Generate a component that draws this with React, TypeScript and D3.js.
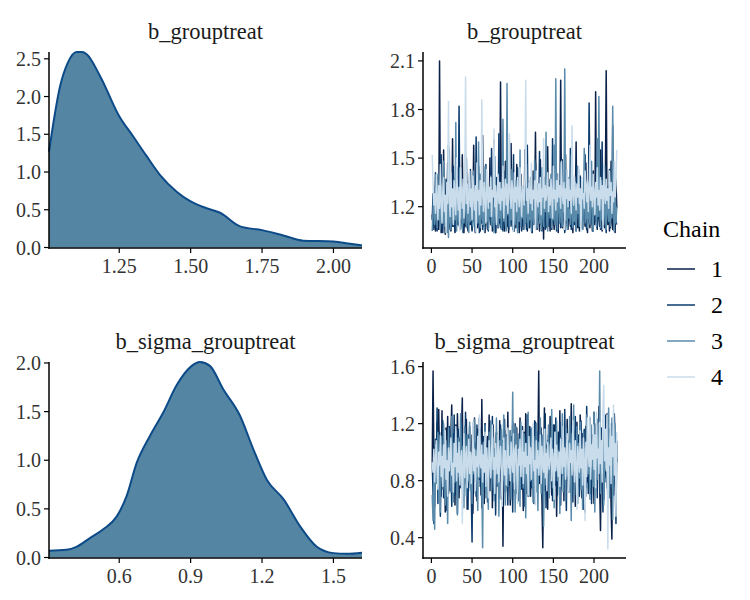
import React from 'react';
import * as d3 from 'd3';

// ---------- data ----------
const chainLabels = ['1', '2', '3', '4'];
const chainColors = ['#0a2149', '#0b3a6c', '#5a8bab', '#c9dceb'];

const densTopX = [1.004, 1.043, 1.07, 1.101, 1.12, 1.136, 1.183, 1.25, 1.299, 1.346, 1.393, 1.451, 1.5, 1.556, 1.603, 1.673, 1.75, 1.824, 1.894, 2.0, 2.058, 2.1];
const densTopY = [1.27, 2.14, 2.45, 2.59, 2.59, 2.56, 2.27, 1.74, 1.47, 1.21, 0.96, 0.74, 0.61, 0.52, 0.46, 0.28, 0.23, 0.16, 0.09, 0.08, 0.05, 0.027];

const densBotX = [0.305, 0.378, 0.42, 0.477, 0.533, 0.589, 0.631, 0.673, 0.729, 0.785, 0.841, 0.9, 0.939, 0.981, 1.037, 1.107, 1.164, 1.22, 1.29, 1.36, 1.43, 1.5, 1.556, 1.62];
const densBotY = [0.07, 0.08, 0.11, 0.2, 0.29, 0.42, 0.63, 0.97, 1.25, 1.49, 1.77, 1.96, 2.01, 1.97, 1.73, 1.46, 1.11, 0.8, 0.6, 0.32, 0.11, 0.045, 0.038, 0.05];

const topChain1 = [
  1.15, 1.08, 1.29, 1.12, 1.05, 1.22, 1.10, 1.38, 1.06, 2.10, 1.18, 1.04,
  1.31, 1.09, 1.55, 1.14, 1.03, 1.26, 1.12, 1.47, 1.07, 1.19, 1.35, 1.05,
  1.11, 1.62, 1.08, 1.21, 1.04, 1.33, 1.15, 1.09, 1.44, 1.17, 1.06, 1.28,
  1.10, 1.52, 1.13, 1.04, 1.24, 1.08, 1.36, 1.19, 1.05, 1.14, 1.41, 1.09,
  1.23, 1.06, 1.18, 1.58, 1.11, 1.04, 1.30, 1.13, 1.07, 1.45, 1.16, 1.05,
  1.27, 1.10, 1.64, 1.08, 1.20, 1.04, 1.39, 1.12, 1.06, 1.25, 1.15, 1.50,
  1.09, 1.32, 1.05, 1.19, 1.61, 1.11, 1.04, 1.28, 1.14, 1.07, 1.43, 1.10,
  1.97, 1.21, 1.06, 1.34, 1.12, 1.05, 1.48, 1.16, 1.08, 1.26, 1.04, 1.37,
  1.13, 1.59, 1.09, 1.22, 1.05, 1.31, 1.15, 1.07, 1.46, 1.11, 1.24, 1.04,
  1.18, 1.40, 1.08, 1.29, 1.06, 1.13, 1.55, 1.10, 1.20, 1.05, 1.35, 1.12,
  1.07, 1.27, 1.16, 1.04, 1.42, 1.09, 1.23, 1.66, 1.11, 1.06, 1.30, 1.14,
  1.05, 1.49, 1.18, 1.08, 1.25, 1.00, 1.38, 1.12, 1.07, 1.21, 1.57, 1.10,
  1.15, 1.05, 1.33, 1.09, 1.26, 1.13, 1.06, 1.44, 1.17, 1.08, 1.29, 1.04,
  1.36, 1.11, 1.98, 1.19, 1.07, 1.27, 1.14, 1.05, 1.52, 1.10, 1.22, 1.06,
  1.34, 1.12, 1.08, 1.45, 1.16, 1.04, 1.28, 1.09, 1.20, 1.60, 1.13, 1.07,
  1.24, 1.05, 1.39, 1.11, 1.18, 1.06, 1.31, 1.15, 1.08, 1.47, 1.10, 1.04,
  1.26, 1.13, 1.07, 1.35, 1.19, 1.05, 1.42, 1.12, 1.09, 1.91, 1.23, 1.06,
  1.30, 1.14, 1.08, 1.55, 1.11, 1.05, 1.27, 1.17, 1.07, 1.38, 2.04, 1.20,
  1.09, 1.33, 1.05, 1.16, 1.48, 1.10, 1.06, 1.25, 1.13, 1.04, 1.37, 1.19,
];
const topChain2 = [
  1.12, 1.28, 1.06, 1.19, 1.41, 1.09, 1.05, 1.33, 1.16, 1.24, 1.08, 1.52,
  1.13, 1.04, 1.27, 1.18, 1.10, 1.37, 1.07, 1.22, 1.58, 1.11, 1.06, 1.30,
  1.15, 1.08, 1.45, 1.20, 1.05, 1.26, 1.12, 1.39, 1.09, 1.82, 1.17, 1.07,
  1.29, 1.13, 1.04, 1.36, 1.21, 1.10, 1.50, 1.14, 1.06, 1.25, 1.09, 1.43,
  1.18, 1.05, 1.32, 1.11, 1.24, 1.07, 1.63, 1.15, 1.09, 1.28, 1.04, 1.40,
  1.12, 1.20, 1.06, 1.34, 1.17, 1.08, 1.46, 1.11, 1.25, 1.05, 1.30, 1.14,
  1.09, 1.56, 1.19, 1.06, 1.27, 1.13, 1.04, 1.38, 1.16, 1.10, 1.65, 1.12,
  1.07, 1.31, 1.20, 1.05, 1.42, 1.14, 1.09, 1.26, 1.61, 1.11, 1.06, 1.35,
  1.18, 1.08, 1.29, 1.13, 1.52, 1.05, 1.23, 1.16, 1.10, 1.44, 1.07, 1.21,
  1.33, 1.12, 1.05, 1.27, 1.17, 1.09, 1.39, 1.14, 1.06, 1.58, 1.11, 1.24,
  1.08, 1.36, 1.15, 1.04, 1.30, 1.19, 1.10, 1.47, 1.13, 1.07, 1.25, 1.16,
  1.54, 1.09, 1.21, 1.05, 1.34, 1.12, 1.18, 1.06, 1.42, 1.14, 1.27, 1.08,
  1.11, 1.37, 1.19, 1.06, 1.62, 1.13, 1.09, 1.29, 1.15, 1.05, 1.40, 1.22,
  1.10, 1.31, 1.07, 1.17, 1.49, 1.12, 1.25, 1.04, 1.35, 1.16, 1.08, 1.28,
  1.19, 1.11, 1.56, 1.06, 1.23, 1.14, 1.33, 1.09, 1.18, 1.05, 1.45, 1.13,
  1.26, 1.08, 1.38, 1.15, 1.07, 1.30, 1.12, 1.21, 1.52, 1.10, 1.06, 1.34,
  1.17, 1.84, 1.24, 1.09, 1.41, 1.13, 1.05, 1.29, 1.18, 1.11, 1.47, 1.07,
  1.22, 1.14, 1.36, 1.06, 1.19, 1.60, 1.12, 1.08, 1.27, 1.15, 1.04, 1.32,
  1.16, 1.10, 1.43, 1.07, 1.24, 1.13, 1.70, 1.18, 1.05, 1.29, 1.11, 1.09,
];
const topChain3 = [
  1.05, 1.18, 1.31, 1.09, 1.14, 1.26, 1.07, 1.40, 1.12, 1.21, 1.06, 1.33,
  1.16, 1.10, 1.48, 1.08, 1.23, 1.13, 1.04, 1.29, 1.01, 1.55, 1.11, 1.06,
  1.27, 1.15, 1.09, 1.37, 1.12, 1.72, 1.05, 1.24, 1.17, 1.08, 1.44, 1.13,
  1.20, 1.06, 1.32, 1.10, 1.18, 1.53, 1.07, 1.25, 1.14, 1.04, 1.36, 1.11,
  1.22, 1.16, 1.08, 1.42, 1.13, 1.05, 1.28, 1.19, 1.10, 1.60, 1.12, 1.07,
  1.34, 1.15, 1.09, 1.23, 1.05, 1.45, 1.17, 1.11, 1.30, 1.06, 1.20, 1.14,
  1.39, 1.08, 1.26, 1.12, 1.04, 1.51, 1.16, 1.10, 1.29, 1.07, 1.21, 1.13,
  1.35, 1.06, 1.18, 1.74, 1.11, 1.24, 1.09, 1.05, 1.96, 1.15, 1.31, 1.08,
  1.20, 1.12, 1.43, 1.06, 1.27, 1.14, 1.09, 1.36, 1.17, 1.04, 1.25, 1.11,
  1.55, 1.08, 1.19, 1.13, 1.32, 1.06, 1.22, 1.10, 1.46, 1.15, 1.07, 1.28,
  1.12, 1.38, 1.05, 1.20, 1.16, 1.09, 1.49, 1.13, 1.26, 1.07, 1.34, 1.18,
  1.10, 1.23, 1.06, 1.44, 1.14, 1.08, 1.30, 1.17, 1.66, 1.11, 1.05, 1.27,
  1.19, 1.13, 1.40, 1.07, 1.24, 1.12, 1.58, 1.09, 1.99, 1.15, 1.06, 1.33,
  1.21, 1.10, 1.47, 1.14, 1.08, 1.29, 1.17, 2.05, 1.12, 1.25, 1.06, 1.38,
  1.13, 1.18, 1.09, 1.52, 1.15, 1.07, 1.26, 1.11, 1.35, 1.05, 1.20, 1.16,
  1.43, 1.08, 1.23, 1.12, 1.30, 1.06, 1.19, 1.56, 1.10, 1.14, 1.27, 1.07,
  1.34, 1.13, 1.09, 1.21, 1.48, 1.11, 1.05, 1.31, 1.16, 1.24, 1.08, 1.62,
  1.14, 1.88, 1.19, 1.07, 1.36, 1.12, 1.27, 1.09, 1.45, 1.15, 1.06, 1.30,
  1.18, 1.11, 1.40, 1.08, 1.22, 1.13, 1.82, 1.16, 1.05, 1.33, 1.10, 1.20,
];
const topChain4 = [
  1.52, 1.34, 1.21, 1.28, 1.16, 1.40, 1.25, 1.12, 1.33, 1.19, 1.46, 1.23,
  1.10, 1.30, 1.38, 1.17, 1.27, 1.04, 1.35, 1.22, 1.85, 1.26, 1.14, 1.41,
  1.20, 1.31, 1.09, 1.36, 1.24, 1.15, 1.50, 1.28, 1.18, 1.32, 1.05, 1.44,
  1.26, 1.19, 1.37, 1.13, 1.29, 2.00, 1.22, 1.34, 1.16, 1.25, 1.42, 1.20,
  1.31, 1.12, 1.39, 1.27, 1.18, 1.33, 1.04, 1.47, 1.24, 1.30, 1.15, 1.36,
  1.21, 1.86, 1.28, 1.17, 1.35, 1.25, 1.10, 1.43, 1.29, 1.19, 1.32, 1.23,
  1.38, 1.14, 1.30, 1.26, 1.68, 1.20, 1.33, 1.09, 1.27, 1.40, 1.22, 1.35,
  1.18, 1.31, 1.24, 1.45, 1.13, 1.29, 1.37, 1.21, 1.34, 1.16, 1.28, 1.65,
  1.25, 1.19, 1.36, 1.30, 1.05, 1.41, 1.23, 1.32, 1.17, 1.38, 1.27, 1.20,
  1.44, 1.26, 1.14, 1.33, 1.29, 1.21, 1.39, 1.98, 1.24, 1.31, 1.16, 1.35,
  1.28, 1.22, 1.47, 1.18, 1.30, 1.25, 1.36, 1.06, 1.42, 1.27, 1.20, 1.34,
  1.23, 1.38, 1.15, 1.31, 1.26, 1.62, 1.19, 1.33, 1.24, 1.29, 1.41, 1.17,
  1.32, 1.21, 1.37, 1.27, 1.13, 1.45, 1.25, 1.30, 1.18, 1.36, 1.23, 1.40,
  1.26, 1.33, 1.19, 1.48, 1.28, 1.22, 1.35, 1.06, 1.31, 1.25, 1.43, 1.20,
  1.37, 1.24, 1.30, 1.16, 1.70, 1.27, 1.21, 1.39, 1.29, 1.18, 1.34, 1.26,
  1.45, 1.22, 1.31, 1.05, 1.38, 1.25, 1.28, 1.19, 1.42, 1.33, 1.23, 1.36,
  1.17, 1.29, 1.58, 1.24, 1.32, 1.20, 1.40, 1.27, 1.15, 1.35, 1.26, 1.44,
  1.21, 1.30, 1.18, 1.38, 1.25, 1.33, 1.06, 1.46, 1.28, 1.22, 1.37, 1.24,
  1.31, 1.19, 1.42, 1.27, 1.35, 1.16, 1.29, 1.23, 1.48, 1.26, 1.34, 1.55,
];

const botChain1 = [
  0.93, 1.57, 0.98, 0.62, 1.04, 0.85, 1.21, 0.74, 1.30, 0.88, 1.12, 0.69,
  1.29, 0.81, 0.96, 1.08, 0.58, 1.17, 0.90, 1.25, 0.71, 1.02, 0.86, 1.14,
  1.33, 0.77, 1.05, 0.92, 0.63, 1.19, 0.84, 1.27, 0.99, 0.68, 1.10, 0.80,
  1.15, 1.38, 0.72, 0.95, 1.06, 0.83, 1.23, 0.60, 1.01, 0.89, 1.18, 0.75,
  0.97, 1.12, 0.57, 0.88, 1.24, 0.79, 1.03, 0.66, 1.16, 0.93, 0.81, 1.09,
  0.70, 1.37, 0.86, 1.00, 0.64, 1.20, 0.91, 0.78, 1.11, 0.85, 1.26, 0.73,
  0.98, 1.07, 0.61, 1.19, 0.87, 0.94, 0.76, 1.13, 0.82, 1.04, 0.68, 1.22,
  0.90, 0.79, 1.08, 0.34, 0.96, 1.15, 0.72, 1.02, 0.85, 1.28, 0.77, 0.99,
  0.63, 1.11, 0.89, 1.21, 0.74, 0.95, 1.06, 0.80, 1.17, 0.67, 1.00, 0.88,
  1.24, 0.76, 1.03, 0.92, 0.59, 1.14, 0.83, 1.27, 0.71, 0.97, 1.09, 0.82,
  1.18, 0.69, 0.94, 1.13, 0.86, 1.02, 0.75, 1.21, 0.80, 0.91, 1.06, 1.57,
  0.78, 0.84, 0.99, 0.65, 0.33, 0.88, 1.31, 0.73, 1.05, 0.93, 0.60, 1.12,
  0.81, 1.25, 0.96, 0.70, 1.08, 0.87, 1.19, 0.77, 1.01, 0.55, 0.94, 1.14,
  0.85, 1.29, 0.74, 1.03, 0.90, 1.17, 0.66, 0.97, 1.10, 0.80, 1.23, 0.89,
  0.72, 1.06, 0.93, 1.34, 0.78, 1.00, 0.87, 1.15, 0.62, 0.95, 1.21, 0.83,
  1.09, 0.76, 1.26, 0.91, 0.68, 1.13, 0.86, 1.02, 0.58, 1.18, 0.94, 0.79,
  1.07, 0.84, 1.24, 0.71, 0.99, 1.12, 0.88, 0.64, 1.20, 0.92, 0.81, 1.15,
  0.97, 1.32, 0.75, 0.45, 1.05, 0.89, 1.22, 0.67, 0.98, 1.11, 0.82, 1.27,
  0.90, 0.73, 1.16, 0.95, 0.62, 0.39, 1.08, 0.85, 1.25, 0.77, 1.03, 0.93,
];
const botChain2 = [
  0.93, 0.71, 0.50, 0.88, 1.09, 0.79, 1.31, 0.64, 0.97, 1.14, 0.55, 1.02,
  0.84, 1.22, 0.68, 0.96, 1.10, 0.77, 0.59, 1.05, 0.89, 1.18, 0.73, 0.99,
  0.62, 1.13, 0.86, 1.26, 0.70, 1.01, 0.92, 0.57, 1.16, 0.81, 1.07, 0.75,
  1.21, 0.94, 0.66, 1.04, 0.85, 1.28, 0.78, 0.98, 0.60, 1.12, 0.87, 1.00,
  0.72, 0.37, 1.15, 0.90, 0.80, 1.06, 0.69, 1.19, 0.95, 0.83, 1.24, 0.76,
  1.03, 0.61, 0.91, 1.11, 0.74, 1.20, 0.86, 0.99, 0.65, 1.08, 0.82, 1.17,
  0.79, 0.97, 1.25, 0.70, 1.02, 0.88, 0.56, 1.14, 0.93, 0.76, 1.10, 0.84,
  1.19, 0.67, 0.96, 1.06, 0.81, 1.23, 0.73, 0.90, 1.12, 0.63, 1.00, 0.87,
  1.15, 0.78, 0.94, 0.58, 1.09, 0.85, 1.20, 0.71, 1.03, 0.92, 0.66, 1.13,
  0.83, 1.05, 0.74, 1.18, 0.90, 0.62, 1.11, 0.97, 0.80, 1.26, 0.69, 1.01,
  0.88, 1.16, 0.75, 0.95, 1.07, 0.64, 1.22, 0.86, 0.99, 0.72, 1.14, 0.91,
  1.04, 0.79, 1.17, 0.68, 0.93, 1.10, 0.82, 1.27, 0.61, 0.96, 1.08, 0.85,
  0.74, 1.13, 0.90, 1.02, 0.66, 1.19, 0.87, 0.77, 1.24, 0.95, 0.70, 1.06,
  0.92, 1.21, 0.63, 1.00, 0.84, 1.15, 0.76, 1.30, 0.89, 0.59, 1.11, 0.97,
  0.81, 1.04, 0.72, 1.18, 0.94, 0.65, 1.09, 0.86, 1.25, 0.78, 1.01, 0.91,
  1.12, 0.69, 0.98, 1.22, 0.83, 1.05, 0.60, 1.16, 0.88, 0.75, 1.32, 0.94,
  0.71, 1.07, 0.90, 1.19, 0.64, 1.03, 0.85, 1.28, 0.77, 0.99, 1.13, 0.68,
  1.23, 0.87, 1.01, 0.73, 1.17, 0.92, 0.58, 1.10, 0.84, 1.26, 0.79, 0.96,
  0.66, 1.14, 0.89, 1.05, 0.76, 1.20, 0.93, 0.70, 1.27, 0.83, 0.50, 1.08,
];
const botChain3 = [
  0.70, 0.52, 0.84, 0.46, 1.05, 0.78, 0.93, 1.14, 0.67, 1.00, 0.58, 1.11,
  0.86, 0.74, 1.20, 0.95, 0.63, 1.08, 0.81, 0.50, 1.17, 0.90, 1.02, 0.72,
  1.25, 0.88, 0.65, 1.06, 0.79, 1.15, 0.96, 0.56, 1.10, 0.83, 0.99, 1.27,
  0.75, 0.92, 1.04, 0.61, 1.18, 0.87, 0.69, 1.12, 0.94, 0.80, 1.21, 0.73,
  0.98, 0.64, 1.09, 0.85, 1.23, 0.71, 1.01, 0.90, 0.59, 1.13, 0.82, 1.16,
  0.95, 0.77, 0.33, 1.07, 0.88, 1.19, 0.68, 1.03, 0.86, 0.60, 1.14, 0.91,
  1.22, 0.74, 0.97, 1.10, 0.66, 1.02, 0.84, 1.24, 0.78, 0.93, 0.55, 1.08,
  0.89, 1.16, 0.70, 0.99, 1.26, 0.81, 0.63, 1.11, 0.92, 0.76, 1.05, 0.85,
  1.15, 0.67, 0.94, 1.42, 0.79, 1.03, 0.58, 1.18, 0.87, 0.72, 1.09, 0.96,
  0.62, 1.21, 0.83, 1.00, 0.75, 1.13, 0.91, 0.54, 1.06, 0.86, 1.28, 0.69,
  1.04, 0.80, 1.17, 0.93, 0.65, 1.11, 0.88, 0.73, 1.20, 0.97, 0.59, 1.07,
  0.84, 1.24, 0.71, 0.98, 1.12, 0.48, 0.90, 1.16, 0.77, 1.02, 0.86, 1.19,
  0.68, 1.05, 0.94, 1.30, 0.75, 0.99, 0.61, 1.14, 0.89, 1.22, 0.80, 1.01,
  0.92, 0.57, 1.10, 0.85, 1.27, 0.72, 1.03, 0.95, 0.66, 1.17, 0.83, 1.08,
  0.78, 1.25, 0.96, 0.52, 1.13, 0.87, 1.33, 0.70, 1.00, 0.91, 1.18, 0.64,
  1.06, 0.82, 1.21, 0.74, 0.97, 0.60, 1.15, 0.88, 1.02, 0.69, 1.26, 0.93,
  0.85, 1.09, 0.67, 1.19, 0.90, 1.04, 0.76, 1.28, 0.58, 0.99, 1.12, 0.81,
  1.20, 0.94, 1.57, 0.71, 1.07, 0.86, 1.23, 0.63, 1.01, 0.89, 1.16, 0.75,
  0.97, 1.31, 0.68, 1.10, 0.84, 1.24, 0.53, 1.03, 0.92, 1.20, 0.79, 1.05,
];
const botChain4 = [
  0.93, 0.86, 1.02, 0.79, 0.95, 1.08, 0.88, 0.74, 1.00, 0.91, 1.12, 0.83,
  0.97, 0.76, 1.05, 0.89, 1.15, 0.81, 0.94, 0.69, 1.03, 0.87, 0.98, 1.10,
  0.84, 0.92, 0.72, 1.06, 0.90, 1.18, 0.80, 0.99, 0.86, 1.07, 0.77, 0.95,
  1.01, 0.50, 0.88, 1.13, 0.82, 0.96, 1.04, 0.75, 0.93, 1.09, 0.85, 1.00,
  0.78, 0.94, 1.21, 0.87, 1.02, 0.73, 0.97, 0.90, 1.11, 0.83, 1.26, 0.92,
  0.89, 1.05, 0.79, 0.98, 0.86, 1.14, 0.76, 1.03, 0.91, 0.68, 1.08, 0.95,
  0.82, 1.00, 1.19, 0.88, 0.96, 0.71, 1.06, 0.93, 0.85, 1.12, 0.79, 0.99,
  1.04, 0.87, 0.62, 0.95, 1.10, 0.84, 1.01, 0.77, 0.92, 1.17, 0.89, 0.97,
  0.80, 1.07, 0.93, 0.86, 1.13, 0.74, 0.99, 1.05, 0.88, 0.64, 1.02, 0.91,
  1.09, 0.83, 0.96, 1.15, 0.78, 1.00, 0.90, 1.06, 0.85, 0.97, 0.70, 1.11,
  0.92, 1.03, 0.81, 0.98, 1.20, 0.87, 0.94, 0.63, 1.08, 0.89, 1.01, 0.84,
  0.95, 1.12, 0.78, 1.04, 0.91, 0.86, 1.16, 0.82, 0.99, 0.73, 1.07, 0.93,
  0.88, 0.97, 1.10, 0.80, 1.02, 0.94, 0.67, 1.14, 0.87, 1.05, 0.92, 0.83,
  1.00, 0.76, 1.09, 0.95, 0.85, 1.18, 0.90, 1.03, 0.81, 0.98, 1.13, 0.88,
  0.72, 1.06, 0.93, 1.01, 0.84, 1.22, 0.96, 0.79, 1.08, 0.91, 0.60, 1.04,
  0.97, 0.86, 1.15, 0.89, 1.02, 0.77, 1.10, 0.94, 0.52, 1.07, 0.83, 1.24,
  0.99, 0.90, 1.25, 0.81, 1.05, 0.95, 1.19, 0.88, 1.12, 0.75, 1.28, 0.96,
  1.02, 0.85, 1.21, 0.92, 1.08, 0.79, 1.31, 1.47, 0.94, 1.16, 0.87, 1.26,
  0.32, 1.03, 0.91, 1.20, 0.78, 1.11, 0.97, 1.33, 0.84, 1.06, 0.55, 1.14,
];

const topChains = [topChain1, topChain2, topChain3, topChain4];
const botChains = [botChain1, botChain2, botChain3, botChain4];

const densTopXTicks = [1.25, 1.5, 1.75, 2.0];
const densTopYTicks = [0, 0.5, 1, 1.5, 2, 2.5];
const densBotXTicks = [0.6, 0.9, 1.2, 1.5];
const densBotYTicks = [0, 0.5, 1, 1.5, 2];
const traceXTicks = [0, 50, 100, 150, 200];
const traceTopYTicks = [1.2, 1.5, 1.8, 2.1];
const traceBotYTicks = [0.4, 0.8, 1.2, 1.6];

const titleTop = 'b_grouptreat';
const titleBot = 'b_sigma_grouptreat';

// ---------- styling ----------
const FONT = "'Liberation Serif'";
const TICK_SIZE = 20;
const TITLE_SIZE = 22.5;
const TICK_COLOR = '#333333';
const DENS_FILL = '#5486a4';
const DENS_LINE = '#0d4a88';

type Box = { left: number; right: number; top: number; bottom: number };

const txt = (size: number) => ({ fontFamily: FONT, fontSize: size + 'px' });

function Axes({ box, x, y, xTicks, yTicks, xFmt, yFmt, title }: any) {
  return (
    <g>
      <line x1={box.left} x2={box.left} y1={box.top} y2={box.bottom + 0.75} stroke="#000" strokeWidth={1.5} />
      <line x1={box.left - 0.75} x2={box.right} y1={box.bottom} y2={box.bottom} stroke="#000" strokeWidth={1.5} />
      {yTicks.map((t: number) => (
        <g key={'y' + t}>
          <line x1={box.left - 5} x2={box.left} y1={y(t)} y2={y(t)} stroke="#000" strokeWidth={1.2} />
          <text x={box.left - 8} y={y(t)} dy="0.35em" textAnchor="end" style={txt(TICK_SIZE)} fill={TICK_COLOR}>
            {yFmt(t)}
          </text>
        </g>
      ))}
      {xTicks.map((t: number) => (
        <g key={'x' + t}>
          <line x1={x(t)} x2={x(t)} y1={box.bottom} y2={box.bottom + 5} stroke="#000" strokeWidth={1.2} />
          <text x={x(t)} y={box.bottom + 25} textAnchor="middle" style={txt(TICK_SIZE)} fill={TICK_COLOR}>
            {xFmt(t)}
          </text>
        </g>
      ))}
      <text x={(box.left + box.right) / 2} y={box.top - 13} textAnchor="middle" style={txt(TITLE_SIZE)} fill="#1a1a1a">
        {title}
      </text>
    </g>
  );
}

function DensityPanel({ box, xs, ys, xTicks, yTicks, xFmt, title }: any) {
  const x = d3.scaleLinear().domain([xs[0], xs[xs.length - 1]]).range([box.left, box.right]);
  const y = d3.scaleLinear().domain([0, d3.max(ys) as number]).range([box.bottom - 0.5, box.top]);
  const pts = xs.map((v: number, i: number) => [v, ys[i]] as [number, number]);
  const area = d3.area<[number, number]>().x(d => x(d[0])).y0(y(0)).y1(d => y(d[1])).curve(d3.curveMonotoneX);
  const line = d3.line<[number, number]>().x(d => x(d[0])).y(d => y(d[1])).curve(d3.curveMonotoneX);
  return (
    <g>
      <path d={area(pts) || ''} fill={DENS_FILL} />
      <path d={line(pts) || ''} fill="none" stroke={DENS_LINE} strokeWidth={2} />
      <Axes box={box} x={x} y={y} xTicks={xTicks} yTicks={yTicks} xFmt={xFmt} yFmt={d3.format('.1f')} title={title} />
    </g>
  );
}

function TracePanel({ box, chains, yTicks, title }: any) {
  const n = chains[0].length;
  const iters = d3.range(1, n + 1);
  const xPad = (n - 1) * 0.05;
  const x = d3.scaleLinear().domain([1 - xPad, n + xPad]).range([box.left, box.right]);
  const all = chains.flat();
  const [lo, hi] = d3.extent(all) as [number, number];
  const yPad = (hi - lo) * 0.05;
  const y = d3.scaleLinear().domain([lo - yPad, hi + yPad]).range([box.bottom, box.top]);
  const line = d3.line<number>().x((_, i) => x(iters[i])).y(d => y(d));
  return (
    <g>
      {chains.map((c: number[], k: number) => (
        <path key={k} d={line(c) || ''} fill="none" stroke={chainColors[k]} strokeWidth={1.5} strokeLinejoin="round" />
      ))}
      <Axes box={box} x={x} y={y} xTicks={traceXTicks} yTicks={yTicks} xFmt={d3.format('d')} yFmt={d3.format('.1f')} title={title} />
    </g>
  );
}

export default function App() {
  const tl: Box = { left: 49, right: 362, top: 52, bottom: 248 };
  const tr: Box = { left: 423, right: 626, top: 52, bottom: 248 };
  const bl: Box = { left: 49, right: 362, top: 362, bottom: 558 };
  const br: Box = { left: 423, right: 626, top: 362, bottom: 558 };
  const legendYs = [269, 305, 341, 377];
  return (
    <svg width={750} height={600} style={{ position: 'absolute', left: 0, top: 0, background: '#fff' }}>
      <rect x={0} y={0} width={750} height={600} fill="#fff" />
      <DensityPanel box={tl} xs={densTopX} ys={densTopY} xTicks={densTopXTicks} yTicks={densTopYTicks} xFmt={d3.format('.2f')} title={titleTop} />
      <TracePanel box={tr} chains={topChains} yTicks={traceTopYTicks} title={titleTop} />
      <DensityPanel box={bl} xs={densBotX} ys={densBotY} xTicks={densBotXTicks} yTicks={densBotYTicks} xFmt={d3.format('.1f')} title={titleBot} />
      <TracePanel box={br} chains={botChains} yTicks={traceBotYTicks} title={titleBot} />
      <g>
        <text x={663} y={237} style={txt(24)} fill="#000">Chain</text>
        {chainLabels.map((lab, i) => (
          <g key={lab}>
            <line x1={667} x2={695} y1={legendYs[i]} y2={legendYs[i]} stroke={chainColors[i]} strokeWidth={1.5} />
            <text x={711} y={legendYs[i]} dy="0.35em" style={txt(24)} fill="#000">{lab}</text>
          </g>
        ))}
      </g>
    </svg>
  );
}
